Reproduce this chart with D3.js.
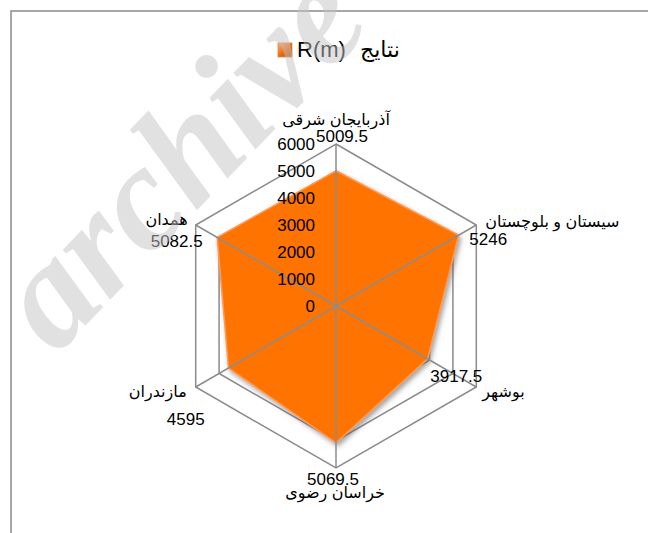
<!DOCTYPE html>
<html lang="fa">
<head>
<meta charset="UTF-8">
<script src="https://d3js.org/d3.v7.min.js"></script>
<style>
  body { margin: 0; background: #fff; }
  text { font-family: "Liberation Sans", Arial, "DejaVu Sans", sans-serif; fill: #000; }
</style>
</head>
<body>
<svg class="chart"></svg>
<script>

// data
const categories = ['آذربایجان شرقی', 'سیستان و بلوچستان', 'بوشهر', 'خراسان رضوی', 'مازندران', 'همدان']
const values = [5009.5, 5246, 3917.5, 5069.5, 4595, 5082.5]
const ticks = [0, 1000, 2000, 3000, 4000, 5000, 6000]
const seriesName = 'R(m)'
const legendTitle = 'نتایج'

const W = 648, H = 533
const cx = 336, cy = 306, radius = 162

let svg = d3.select('.chart')
    .attr('width', W)
    .attr('height', H)

let defs = svg.append('defs')

let shadow = defs.append('filter')
    .attr('id', 'shadow')
    .attr('x', '-10%').attr('y', '-10%')
    .attr('width', '130%').attr('height', '130%')
shadow.append('feDropShadow')
    .attr('dx', 2).attr('dy', 3)
    .attr('stdDeviation', 2.5)
    .attr('flood-color', '#555')
    .attr('flood-opacity', 0.55)

let iconGrad = defs.append('linearGradient')
    .attr('id', 'icon').attr('x1', 0).attr('y1', 0).attr('x2', 1).attr('y2', 1)
iconGrad.append('stop').attr('offset', '0%').attr('stop-color', '#ffb27a')
iconGrad.append('stop').attr('offset', '50%').attr('stop-color', '#f06a10')
iconGrad.append('stop').attr('offset', '100%').attr('stop-color', '#b94a05')

// outer frame (cropped on the right and bottom)
svg.append('rect')
    .attr('x', 11).attr('y', 11)
    .attr('width', 800).attr('height', 700)
    .attr('fill', 'none')
    .attr('stroke', '#8a8a8a')
    .attr('stroke-width', 1.5)

let r = d3.scaleLinear().domain([0, 6000]).range([0, radius])
let angle = d3.scalePoint().domain(d3.range(categories.length)).range([0, 2 * Math.PI * (categories.length - 1) / categories.length])

const px = (i, v) => cx + r(v) * Math.sin(angle(i))
const py = (i, v) => cy - r(v) * Math.cos(angle(i))

let chart = svg.append('g')

// rings
chart.selectAll('.ring')
  .data(ticks.slice(1))
  .join('polygon')
    .attr('class', 'ring')
    .attr('points', t => categories.map((c, i) => [px(i, t), py(i, t)].join(',')).join(' '))
    .attr('fill', 'none')
    .attr('stroke', '#8c8c8c')
    .attr('stroke-width', 1.5)

// series area
chart.append('polygon')
    .attr('points', values.map((v, i) => [px(i, v), py(i, v)].join(',')).join(' '))
    .attr('fill', '#ff7306')
    .attr('stroke', '#ff9a52')
    .attr('stroke-width', 1.5)
    .attr('filter', 'url(#shadow)')

// spokes
chart.selectAll('.spoke')
  .data(categories)
  .join('line')
    .attr('class', 'spoke')
    .attr('x1', cx).attr('y1', cy)
    .attr('x2', (d, i) => px(i, 6000))
    .attr('y2', (d, i) => py(i, 6000))
    .attr('stroke', '#8c8c8c')
    .attr('stroke-width', 1.5)

// tick labels
chart.selectAll('.tick')
  .data(ticks)
  .join('text')
    .attr('class', 'tick')
    .attr('x', cx - 21)
    .attr('y', d => cy - r(d) + 6)
    .attr('text-anchor', 'end')
    .style('font-size', '17px')
    .text(d => d)

// category + value labels, placed like excel does around each vertex
// [dx, dy, anchor] relative to the outer vertex
const catPlace = [[0, -19, 'middle'], [9, 2, 'start'], [6, 10, 'start'], [-1, 30, 'middle'], [-9, 10, 'end'], [-8, 0, 'end']]
const valPlace = [[6, -2, 'middle'], [-7, 20, 'start'], [6, -5, 'end'], [-3, 17, 'middle'], [-10, 38, 'middle'], [7, 22, 'end']]

let labels = chart.selectAll('.cat')
  .data(categories)
  .join('g')
    .attr('class', 'cat')
    .attr('transform', (d, i) => `translate(${px(i, 6000)},${py(i, 6000)})`)

labels.append('text')
    .attr('x', (d, i) => catPlace[i][0])
    .attr('y', (d, i) => catPlace[i][1])
    .attr('text-anchor', (d, i) => catPlace[i][2])
    .style('font-size', '16px')
    .text(d => d)

labels.append('text')
    .attr('x', (d, i) => valPlace[i][0])
    .attr('y', (d, i) => valPlace[i][1])
    .attr('text-anchor', (d, i) => valPlace[i][2])
    .style('font-size', '17px')
    .text((d, i) => values[i])

// legend
let legend = svg.append('g')
legend.append('rect')
    .attr('x', 278).attr('y', 43)
    .attr('width', 14).attr('height', 14)
    .attr('fill', 'url(#icon)')
    .attr('stroke', '#d0874a')
    .attr('stroke-width', 0.8)
legend.append('text')
    .attr('x', 297).attr('y', 57)
    .style('font-size', '22px')
    .text(seriesName)
legend.append('text')
    .attr('x', 360).attr('y', 57)
    .style('font-size', '22px')
    .text(legendTitle)

// watermark
svg.append('text')
    .attr('transform', 'translate(56,356) rotate(-46)')
    .style('font-family', '"Liberation Serif", "DejaVu Serif", serif')
    .style('font-weight', 'bold')
    .style('font-style', 'italic')
    .style('font-size', '150px')
    .style('fill', '#c4c4c4')
    .style('fill-opacity', 0.5)
    .text('archive')

</script>
</body>
</html>
